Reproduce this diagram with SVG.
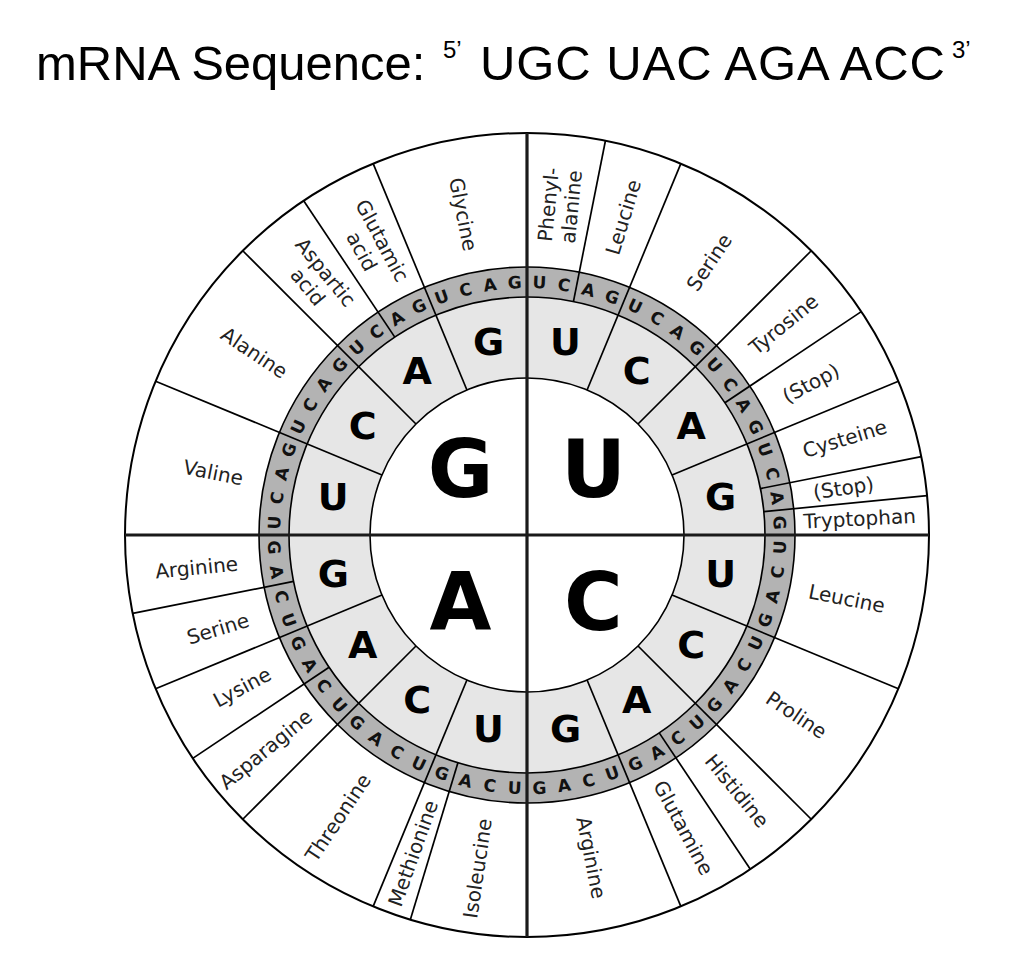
<svg xmlns="http://www.w3.org/2000/svg" width="1018" height="976" viewBox="0 0 1018 976">
<style>
.title{font-family:"Liberation Sans",Arial,sans-serif;font-size:49px;fill:#000}
.sup{font-family:"Liberation Sans",Arial,sans-serif;font-size:24px;fill:#000}
.ring{stroke:#000;stroke-width:1.6}
.ln{stroke:#000;stroke-width:1.7;fill:none}
.q{stroke:#1a1a1a;stroke-width:3.2}
.b1{font-family:"DejaVu Sans",Verdana,sans-serif;font-weight:bold;font-size:80px;text-anchor:middle;fill:#000}
.b2{font-family:"DejaVu Sans",Verdana,sans-serif;font-weight:bold;font-size:38px;text-anchor:middle;fill:#000}
.b3{font-family:"DejaVu Sans",Verdana,sans-serif;font-weight:bold;font-size:17px;text-anchor:middle;fill:#111}
.aa{font-family:"DejaVu Sans",Verdana,sans-serif;font-size:20px;text-anchor:middle;fill:#222}
</style>
<rect width="1018" height="976" fill="#fff"/>
<g id="title">
<text class="title" x="36" y="80">mRNA Sequence:</text>
<text class="sup" x="443" y="58">5’</text>
<text class="title" x="480" y="80" textLength="465" lengthAdjust="spacing">UGC UAC AGA ACC</text>
<text class="sup" x="952" y="58">3’</text>
</g>
<g id="wheel">
<circle cx="527" cy="535" r="402" fill="#fff" stroke="#000" stroke-width="2"/>
<circle cx="527" cy="535" r="268" fill="#b3b3b3" class="ring"/>
<circle cx="527" cy="535" r="238" fill="#e6e6e6" class="ring"/>
<circle cx="527" cy="535" r="157" fill="#fff" class="ring"/>
</g>
<g id="connectors" transform="translate(527 535)">
<g class="ln">
<line x1="0" y1="-157" x2="0" y2="-402" transform="rotate(22.5)"/>
<line x1="0" y1="-157" x2="0" y2="-402" transform="rotate(45)"/>
<line x1="0" y1="-157" x2="0" y2="-402" transform="rotate(67.5)"/>
<line x1="0" y1="-157" x2="0" y2="-402" transform="rotate(112.5)"/>
<line x1="0" y1="-157" x2="0" y2="-402" transform="rotate(135)"/>
<line x1="0" y1="-157" x2="0" y2="-402" transform="rotate(157.5)"/>
<line x1="0" y1="-157" x2="0" y2="-402" transform="rotate(202.5)"/>
<line x1="0" y1="-157" x2="0" y2="-402" transform="rotate(225)"/>
<line x1="0" y1="-157" x2="0" y2="-402" transform="rotate(247.5)"/>
<line x1="0" y1="-157" x2="0" y2="-402" transform="rotate(292.5)"/>
<line x1="0" y1="-157" x2="0" y2="-402" transform="rotate(315)"/>
<line x1="0" y1="-157" x2="0" y2="-402" transform="rotate(337.5)"/>
<line x1="0" y1="-238" x2="0" y2="-402" transform="rotate(11.25)"/>
<line x1="0" y1="-238" x2="0" y2="-402" transform="rotate(56.25)"/>
<line x1="0" y1="-238" x2="0" y2="-402" transform="rotate(78.75)"/>
<line x1="0" y1="-238" x2="0" y2="-402" transform="rotate(84.375)"/>
<line x1="0" y1="-238" x2="0" y2="-402" transform="rotate(146.25)"/>
<line x1="0" y1="-238" x2="0" y2="-402" transform="rotate(196.875)"/>
<line x1="0" y1="-238" x2="0" y2="-402" transform="rotate(236.25)"/>
<line x1="0" y1="-238" x2="0" y2="-402" transform="rotate(258.75)"/>
<line x1="0" y1="-238" x2="0" y2="-402" transform="rotate(326.25)"/>
</g>
<g class="q">
<line x1="0" y1="-402" x2="0" y2="402"/>
<line x1="-402" y1="0" x2="402" y2="0"/>
</g>
</g>
<g id="first-base" class="b1">
<text transform="translate(527 535) rotate(45) translate(0 -94) rotate(-45)" dy="0.36em">U</text>
<text transform="translate(527 535) rotate(135) translate(0 -94) rotate(-135)" dy="0.36em">C</text>
<text transform="translate(527 535) rotate(225) translate(0 -94) rotate(-225)" dy="0.36em">A</text>
<text transform="translate(527 535) rotate(315) translate(0 -94) rotate(-315)" dy="0.36em">G</text>
</g>
<g id="second-base" class="b2">
<text transform="translate(527 535) rotate(11.25) translate(0 -197.5) rotate(-11.25)" dy="0.36em">U</text>
<text transform="translate(527 535) rotate(33.75) translate(0 -197.5) rotate(-33.75)" dy="0.36em">C</text>
<text transform="translate(527 535) rotate(56.25) translate(0 -197.5) rotate(-56.25)" dy="0.36em">A</text>
<text transform="translate(527 535) rotate(78.75) translate(0 -197.5) rotate(-78.75)" dy="0.36em">G</text>
<text transform="translate(527 535) rotate(101.25) translate(0 -197.5) rotate(-101.25)" dy="0.36em">U</text>
<text transform="translate(527 535) rotate(123.75) translate(0 -197.5) rotate(-123.75)" dy="0.36em">C</text>
<text transform="translate(527 535) rotate(146.25) translate(0 -197.5) rotate(-146.25)" dy="0.36em">A</text>
<text transform="translate(527 535) rotate(168.75) translate(0 -197.5) rotate(-168.75)" dy="0.36em">G</text>
<text transform="translate(527 535) rotate(191.25) translate(0 -197.5) rotate(-191.25)" dy="0.36em">U</text>
<text transform="translate(527 535) rotate(213.75) translate(0 -197.5) rotate(-213.75)" dy="0.36em">C</text>
<text transform="translate(527 535) rotate(236.25) translate(0 -197.5) rotate(-236.25)" dy="0.36em">A</text>
<text transform="translate(527 535) rotate(258.75) translate(0 -197.5) rotate(-258.75)" dy="0.36em">G</text>
<text transform="translate(527 535) rotate(281.25) translate(0 -197.5) rotate(-281.25)" dy="0.36em">U</text>
<text transform="translate(527 535) rotate(303.75) translate(0 -197.5) rotate(-303.75)" dy="0.36em">C</text>
<text transform="translate(527 535) rotate(326.25) translate(0 -197.5) rotate(-326.25)" dy="0.36em">A</text>
<text transform="translate(527 535) rotate(348.75) translate(0 -197.5) rotate(-348.75)" dy="0.36em">G</text>
</g>
<g id="third-base" class="b3">
<text transform="translate(527 535) rotate(2.8125) translate(0 -253)" dy="0.36em">U</text>
<text transform="translate(527 535) rotate(8.4375) translate(0 -253)" dy="0.36em">C</text>
<text transform="translate(527 535) rotate(14.0625) translate(0 -253)" dy="0.36em">A</text>
<text transform="translate(527 535) rotate(19.6875) translate(0 -253)" dy="0.36em">G</text>
<text transform="translate(527 535) rotate(25.3125) translate(0 -253)" dy="0.36em">U</text>
<text transform="translate(527 535) rotate(30.9375) translate(0 -253)" dy="0.36em">C</text>
<text transform="translate(527 535) rotate(36.5625) translate(0 -253)" dy="0.36em">A</text>
<text transform="translate(527 535) rotate(42.1875) translate(0 -253)" dy="0.36em">G</text>
<text transform="translate(527 535) rotate(47.8125) translate(0 -253)" dy="0.36em">U</text>
<text transform="translate(527 535) rotate(53.4375) translate(0 -253)" dy="0.36em">C</text>
<text transform="translate(527 535) rotate(59.0625) translate(0 -253)" dy="0.36em">A</text>
<text transform="translate(527 535) rotate(64.6875) translate(0 -253)" dy="0.36em">G</text>
<text transform="translate(527 535) rotate(70.3125) translate(0 -253)" dy="0.36em">U</text>
<text transform="translate(527 535) rotate(75.9375) translate(0 -253)" dy="0.36em">C</text>
<text transform="translate(527 535) rotate(81.5625) translate(0 -253)" dy="0.36em">A</text>
<text transform="translate(527 535) rotate(87.1875) translate(0 -253)" dy="0.36em">G</text>
<text transform="translate(527 535) rotate(92.8125) translate(0 -253) rotate(180)" dy="0.36em">U</text>
<text transform="translate(527 535) rotate(98.4375) translate(0 -253) rotate(180)" dy="0.36em">C</text>
<text transform="translate(527 535) rotate(104.0625) translate(0 -253) rotate(180)" dy="0.36em">A</text>
<text transform="translate(527 535) rotate(109.6875) translate(0 -253) rotate(180)" dy="0.36em">G</text>
<text transform="translate(527 535) rotate(115.3125) translate(0 -253) rotate(180)" dy="0.36em">U</text>
<text transform="translate(527 535) rotate(120.9375) translate(0 -253) rotate(180)" dy="0.36em">C</text>
<text transform="translate(527 535) rotate(126.5625) translate(0 -253) rotate(180)" dy="0.36em">A</text>
<text transform="translate(527 535) rotate(132.1875) translate(0 -253) rotate(180)" dy="0.36em">G</text>
<text transform="translate(527 535) rotate(137.8125) translate(0 -253) rotate(180)" dy="0.36em">U</text>
<text transform="translate(527 535) rotate(143.4375) translate(0 -253) rotate(180)" dy="0.36em">C</text>
<text transform="translate(527 535) rotate(149.0625) translate(0 -253) rotate(180)" dy="0.36em">A</text>
<text transform="translate(527 535) rotate(154.6875) translate(0 -253) rotate(180)" dy="0.36em">G</text>
<text transform="translate(527 535) rotate(160.3125) translate(0 -253) rotate(180)" dy="0.36em">U</text>
<text transform="translate(527 535) rotate(165.9375) translate(0 -253) rotate(180)" dy="0.36em">C</text>
<text transform="translate(527 535) rotate(171.5625) translate(0 -253) rotate(180)" dy="0.36em">A</text>
<text transform="translate(527 535) rotate(177.1875) translate(0 -253) rotate(180)" dy="0.36em">G</text>
<text transform="translate(527 535) rotate(182.8125) translate(0 -253) rotate(180)" dy="0.36em">U</text>
<text transform="translate(527 535) rotate(188.4375) translate(0 -253) rotate(180)" dy="0.36em">C</text>
<text transform="translate(527 535) rotate(194.0625) translate(0 -253) rotate(180)" dy="0.36em">A</text>
<text transform="translate(527 535) rotate(199.6875) translate(0 -253) rotate(180)" dy="0.36em">G</text>
<text transform="translate(527 535) rotate(205.3125) translate(0 -253) rotate(180)" dy="0.36em">U</text>
<text transform="translate(527 535) rotate(210.9375) translate(0 -253) rotate(180)" dy="0.36em">C</text>
<text transform="translate(527 535) rotate(216.5625) translate(0 -253) rotate(180)" dy="0.36em">A</text>
<text transform="translate(527 535) rotate(222.1875) translate(0 -253) rotate(180)" dy="0.36em">G</text>
<text transform="translate(527 535) rotate(227.8125) translate(0 -253) rotate(180)" dy="0.36em">U</text>
<text transform="translate(527 535) rotate(233.4375) translate(0 -253) rotate(180)" dy="0.36em">C</text>
<text transform="translate(527 535) rotate(239.0625) translate(0 -253) rotate(180)" dy="0.36em">A</text>
<text transform="translate(527 535) rotate(244.6875) translate(0 -253) rotate(180)" dy="0.36em">G</text>
<text transform="translate(527 535) rotate(250.3125) translate(0 -253) rotate(180)" dy="0.36em">U</text>
<text transform="translate(527 535) rotate(255.9375) translate(0 -253) rotate(180)" dy="0.36em">C</text>
<text transform="translate(527 535) rotate(261.5625) translate(0 -253) rotate(180)" dy="0.36em">A</text>
<text transform="translate(527 535) rotate(267.1875) translate(0 -253) rotate(180)" dy="0.36em">G</text>
<text transform="translate(527 535) rotate(272.8125) translate(0 -253)" dy="0.36em">U</text>
<text transform="translate(527 535) rotate(278.4375) translate(0 -253)" dy="0.36em">C</text>
<text transform="translate(527 535) rotate(284.0625) translate(0 -253)" dy="0.36em">A</text>
<text transform="translate(527 535) rotate(289.6875) translate(0 -253)" dy="0.36em">G</text>
<text transform="translate(527 535) rotate(295.3125) translate(0 -253)" dy="0.36em">U</text>
<text transform="translate(527 535) rotate(300.9375) translate(0 -253)" dy="0.36em">C</text>
<text transform="translate(527 535) rotate(306.5625) translate(0 -253)" dy="0.36em">A</text>
<text transform="translate(527 535) rotate(312.1875) translate(0 -253)" dy="0.36em">G</text>
<text transform="translate(527 535) rotate(317.8125) translate(0 -253)" dy="0.36em">U</text>
<text transform="translate(527 535) rotate(323.4375) translate(0 -253)" dy="0.36em">C</text>
<text transform="translate(527 535) rotate(329.0625) translate(0 -253)" dy="0.36em">A</text>
<text transform="translate(527 535) rotate(334.6875) translate(0 -253)" dy="0.36em">G</text>
<text transform="translate(527 535) rotate(340.3125) translate(0 -253)" dy="0.36em">U</text>
<text transform="translate(527 535) rotate(345.9375) translate(0 -253)" dy="0.36em">C</text>
<text transform="translate(527 535) rotate(351.5625) translate(0 -253)" dy="0.36em">A</text>
<text transform="translate(527 535) rotate(357.1875) translate(0 -253)" dy="0.36em">G</text>
</g>
<g id="amino-acids" class="aa">
<text id="aa-phe" transform="translate(527 535) rotate(5.625) translate(0 -331) rotate(-90)"><tspan x="0" dy="-0.2em">Phenyl-</tspan><tspan x="0" dy="1.15em">alanine</tspan></text>
<text id="aa-leu1" transform="translate(527 535) rotate(16.875) translate(0 -332) rotate(-90)" dy="0.35em">Leucine</text>
<text id="aa-ser1" transform="translate(527 535) rotate(33.75) translate(0 -328) rotate(-90)" dy="0.35em">Serine</text>
<text id="aa-tyr" transform="translate(527 535) rotate(50.625) translate(0 -332) rotate(-90)" dy="0.35em">Tyrosine</text>
<text id="aa-stop1" transform="translate(527 535) rotate(61.875) translate(0 -322) rotate(-90)" dy="0.35em">(Stop)</text>
<text id="aa-cys" transform="translate(527 535) rotate(73.125) translate(0 -332) rotate(-90)" dy="0.35em">Cysteine</text>
<text id="aa-stop2" transform="translate(527 535) rotate(81.5625) translate(0 -320) rotate(-90)" dy="0.35em">(Stop)</text>
<text id="aa-trp" transform="translate(527 535) rotate(87.1875) translate(0 -333) rotate(-90)" dy="0.35em">Tryptophan</text>
<text id="aa-leu2" transform="translate(527 535) rotate(101.25) translate(0 -326) rotate(-90)" dy="0.35em">Leucine</text>
<text id="aa-pro" transform="translate(527 535) rotate(123.75) translate(0 -324) rotate(-90)" dy="0.35em">Proline</text>
<text id="aa-his" transform="translate(527 535) rotate(140.625) translate(0 -331) rotate(-90)" dy="0.35em">Histidine</text>
<text id="aa-gln" transform="translate(527 535) rotate(151.875) translate(0 -332) rotate(-90)" dy="0.35em">Glutamine</text>
<text id="aa-arg1" transform="translate(527 535) rotate(168.75) translate(0 -329) rotate(-90)" dy="0.35em">Arginine</text>
<text id="aa-ile" transform="translate(527 535) rotate(188.4375) translate(0 -337) rotate(90)" dy="0.35em">Isoleucine</text>
<text id="aa-met" transform="translate(527 535) rotate(199.6875) translate(0 -338) rotate(90)" dy="0.35em">Methionine</text>
<text id="aa-thr" transform="translate(527 535) rotate(213.75) translate(0 -340) rotate(90)" dy="0.35em">Threonine</text>
<text id="aa-asn" transform="translate(527 535) rotate(230.625) translate(0 -338) rotate(90)" dy="0.35em">Asparagine</text>
<text id="aa-lys" transform="translate(527 535) rotate(241.875) translate(0 -323) rotate(90)" dy="0.35em">Lysine</text>
<text id="aa-ser2" transform="translate(527 535) rotate(253.125) translate(0 -323) rotate(90)" dy="0.35em">Serine</text>
<text id="aa-arg2" transform="translate(527 535) rotate(264.375) translate(0 -332) rotate(90)" dy="0.35em">Arginine</text>
<text id="aa-val" transform="translate(527 535) rotate(281.25) translate(0 -320) rotate(90)" dy="0.35em">Valine</text>
<text id="aa-ala" transform="translate(527 535) rotate(303.75) translate(0 -328) rotate(90)" dy="0.35em">Alanine</text>
<text id="aa-asp" transform="translate(527 535) rotate(320.625) translate(0 -331) rotate(90)"><tspan x="0" dy="-0.2em">Aspartic</tspan><tspan x="0" dy="1.15em">acid</tspan></text>
<text id="aa-glu" transform="translate(527 535) rotate(331.875) translate(0 -328) rotate(90)"><tspan x="0" dy="-0.2em">Glutamic</tspan><tspan x="0" dy="1.15em">acid</tspan></text>
<text id="aa-gly" transform="translate(527 535) rotate(348.75) translate(0 -327) rotate(90)" dy="0.35em">Glycine</text>
</g>
</svg>
